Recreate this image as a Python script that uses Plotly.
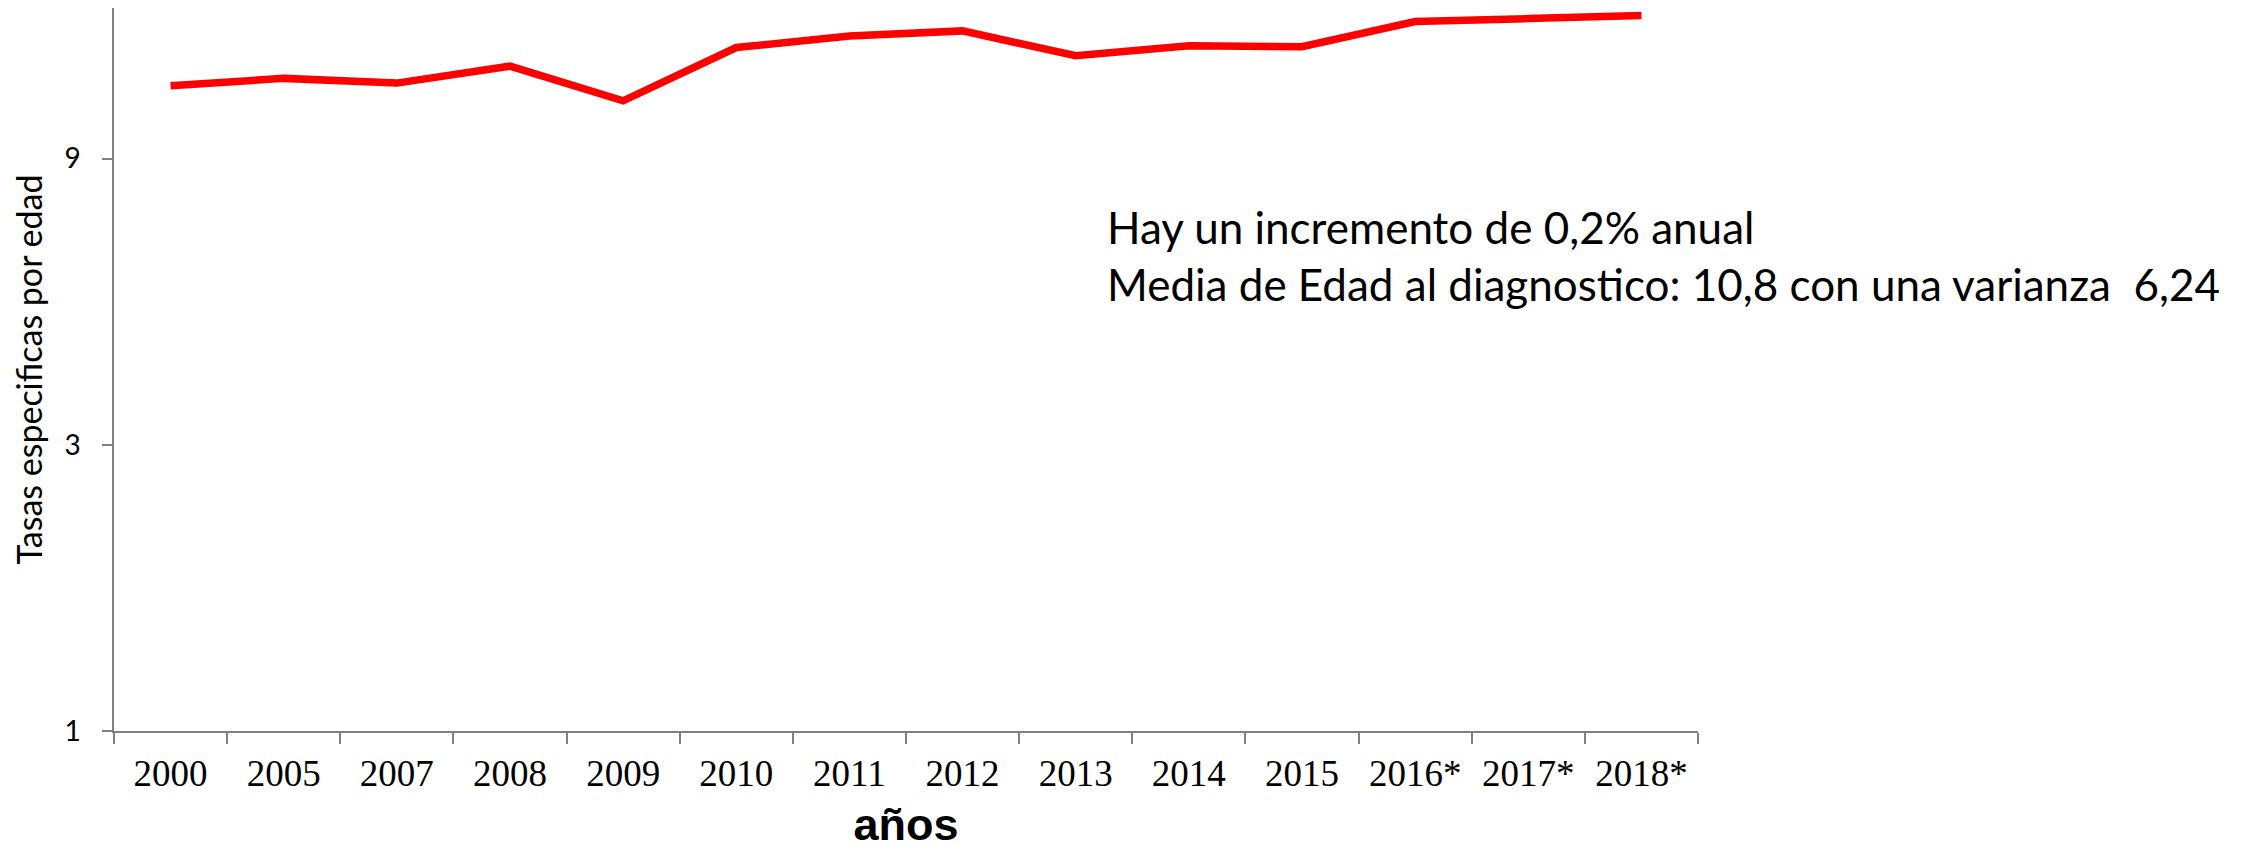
import plotly.graph_objects as go
import math

years = ["2000", "2005", "2007", "2008", "2009", "2010", "2011", "2012",
         "2013", "2014", "2015", "2016*", "2017*", "2018*"]
rates = [11.91, 12.25, 12.03, 12.84, 11.24, 13.79, 14.41, 14.70,
         13.36, 13.88, 13.83, 15.24, 15.41, 15.59]
y_ticks = [1, 3, 9]
y_max = 16.05

note_lines = ["Hay un incremento de 0,2% anual",
              "Media de Edad al diagnostico: 10,8 con una varianza  6,24"]

fig = go.Figure()
fig.add_trace(go.Scatter(
    x=years, y=rates, mode="lines",
    line=dict(color="#ff0000", width=7.5),
    showlegend=False,
))

axis_grey = "#808080"

# page body has an 8px margin; figure is placed at (8, 8)
W, H = 2249, 842
L, T = 106, 0
PW, PH = 1584, 723

fig.update_layout(
    width=W, height=H,
    margin=dict(l=L, r=W - L - PW, t=T, b=H - T - PH, autoexpand=False),
    paper_bgcolor="white", plot_bgcolor="white",
    xaxis=dict(
        type="category",
        range=[-0.5, len(years) - 0.5],
        showgrid=False, zeroline=False,
        showline=True, linecolor=axis_grey, linewidth=1.5,
        ticks="outside", tickson="boundaries", ticklen=11,
        tickcolor=axis_grey, tickwidth=1.5,
        ticklabelstandoff=9,
        tickfont=dict(family="Liberation Sans", size=37, color="black") if False else
        dict(family="Liberation Serif", size=37, color="black"),
        title=dict(text="<b>años</b>", standoff=28,
                   font=dict(family="Liberation Sans", size=45, color="black")),
    ),
    yaxis=dict(
        type="log",
        range=[0, math.log10(y_max)],
        tickvals=y_ticks, ticktext=[str(v) for v in y_ticks],
        showgrid=False, zeroline=False,
        showline=True, linecolor=axis_grey, linewidth=1.5,
        ticks="outside", ticklen=10, tickcolor=axis_grey, tickwidth=1.5,
        ticklabelstandoff=16,
        tickfont=dict(family="Lato", size=28, color="black"),
        title=dict(text="Tasas especificas por edad", standoff=26,
                   font=dict(family="Lato", size=34, color="black")),
    ),
    annotations=[dict(
        xref="paper", yref="paper",
        x=(1105 - 114) / PW, y=(731 - 255.5) / PH,
        xanchor="left", yanchor="middle", align="left",
        showarrow=False,
        text="<br>".join(note_lines),
        font=dict(family="Lato", size=44, color="black"),
    )],
)

fig.write_html("out.html")
